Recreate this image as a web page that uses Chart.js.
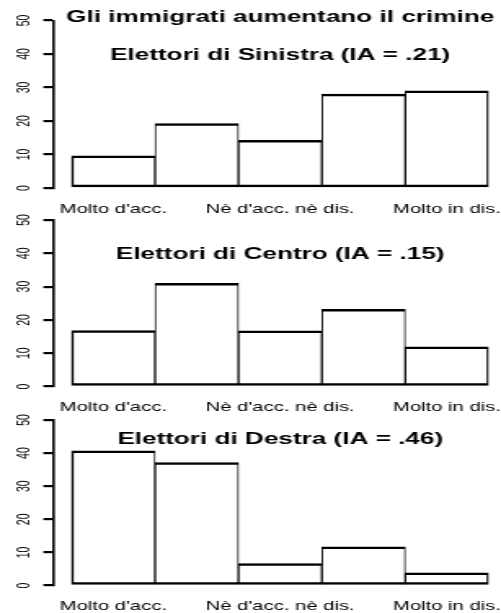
<!DOCTYPE html>
<html>
<head>
<meta charset="utf-8">
<script src="https://cdn.jsdelivr.net/npm/chart.js@4.4.1/dist/chart.umd.min.js"></script>
<style>
  html, body { margin: 0; padding: 0; background: #fff; overflow: hidden; }
  body { width: 501px; height: 613px; position: relative; }
  /* the reference is stretched sideways, so each canvas is drawn narrow and scaled in x */
  canvas { position: absolute; left: 0; transform-origin: 0 0; }
</style>
</head>
<body>
<canvas id="c1" width="312" height="215" style="top:0px"></canvas>
<canvas id="c2" width="312" height="215" style="top:199px"></canvas>
<canvas id="c3" width="312" height="215" style="top:398px"></canvas>
<script>
// ---- data (percent of respondents) ----
const categories = ["Molto d'acc.", '', "Nè d'acc. nè dis.", '', 'Molto in dis.'];
const sinistra = [9.6, 19.2, 14.2, 28.0, 29.0];
const centro   = [16.8, 31.0, 16.7, 23.2, 11.9];
const destra   = [40.7, 37.1, 6.6, 11.7, 3.8];
const yTicks   = [0, 10, 20, 30, 40, 50];

const mainTitle = 'Gli immigrati aumentano il crimine';
const panelTitles = [
  'Elettori di Sinistra (IA = .21)',
  'Elettori di Centro (IA = .15)',
  'Elettori di Destra (IA = .46)'
];

// ---- layout ----
const SX = 501 / 307;          // horizontal stretch
const FONT = '"Liberation Sans", Arial, Helvetica, sans-serif';
const CW = 312, CH = 215;
const AXIS_X = 32.66;          // y axis line (canvas units)
const PLOT_RIGHT = 299.46;

const panels = [
  { id: 'c1', values: sinistra, top: 20.5, bottom: 188,   titles: [{ text: mainTitle, y: 17.3 }, { text: panelTitles[0], y: 55.3 }] },
  { id: 'c2', values: centro,   top: 21,   bottom: 187.5, titles: [{ text: panelTitles[1], y: 55.1 }] },
  { id: 'c3', values: destra,   top: 22,   bottom: 187.5, titles: [{ text: panelTitles[2], y: 41.8 }] }
];

const titlePlugin = {
  id: 'panelTitles',
  afterDraw(chart, args, opts) {
    const { ctx } = chart;
    const cx = chart.scales.x.getPixelForValue(2);
    ctx.save();
    ctx.fillStyle = '#000';
    ctx.textAlign = 'center';
    ctx.textBaseline = 'middle';
    ctx.font = 'bold 16px ' + FONT;
    opts.lines.forEach(l => ctx.fillText(l.text, cx, l.y));
    ctx.restore();
  }
};

panels.forEach(p => {
  const canvas = document.getElementById(p.id);
  canvas.style.transform = `scaleX(${SX})`;
  const n = p.values.length;

  new Chart(canvas, {
    type: 'bar',
    data: {
      datasets: [{
        data: p.values.map((v, i) => ({ x: i, y: v })),
        backgroundColor: '#fff',
        borderColor: '#000',
        borderWidth: ctx => ({
          top: 2.5, bottom: 2.5,
          left: ctx.dataIndex === 0 ? 1.6 : 0.95,
          right: ctx.dataIndex === n - 1 ? 1.6 : 0.95
        }),
        borderSkipped: false,
        barPercentage: 1,
        categoryPercentage: 1
      }]
    },
    options: {
      responsive: false,
      animation: false,
      devicePixelRatio: 1,
      layout: { padding: { top: p.top, left: 0, right: CW - PLOT_RIGHT, bottom: 0 } },
      plugins: {
        legend: { display: false },
        tooltip: { enabled: false },
        panelTitles: { lines: p.titles }
      },
      scales: {
        x: {
          type: 'linear',
          offset: false,
          min: -0.72, max: 4.5,
          grid: { display: false, drawTicks: false, offset: false },
          border: { display: false },
          afterBuildTicks: s => { s.ticks = categories.map((c, i) => ({ value: i })).filter(t => categories[t.value]); },
          ticks: {
            autoSkip: false, maxRotation: 0, padding: 14, color: '#000',
            font: { family: FONT, size: 12.4 },
            callback: v => categories[v]
          },
          afterFit: s => { s.height = CH - p.bottom; s.paddingLeft = 0; s.paddingRight = 0; }
        },
        y: {
          min: 0, max: 50,
          afterBuildTicks: s => { s.ticks = yTicks.map(v => ({ value: v })); },
          grid: { drawOnChartArea: false, drawTicks: true, tickLength: 6.1, color: '#000', lineWidth: 2.2 },
          border: { display: true, color: '#000', width: 1.6 },
          ticks: {
            minRotation: 90, maxRotation: 90, crossAlign: 'center', padding: 5.5, color: '#000',
            font: { family: FONT, size: 10.5 }
          },
          afterFit: s => { s.width = AXIS_X; s.paddingTop = 0; s.paddingBottom = 0; }
        }
      }
    },
    plugins: [titlePlugin]
  });
});
</script>
</body>
</html>
